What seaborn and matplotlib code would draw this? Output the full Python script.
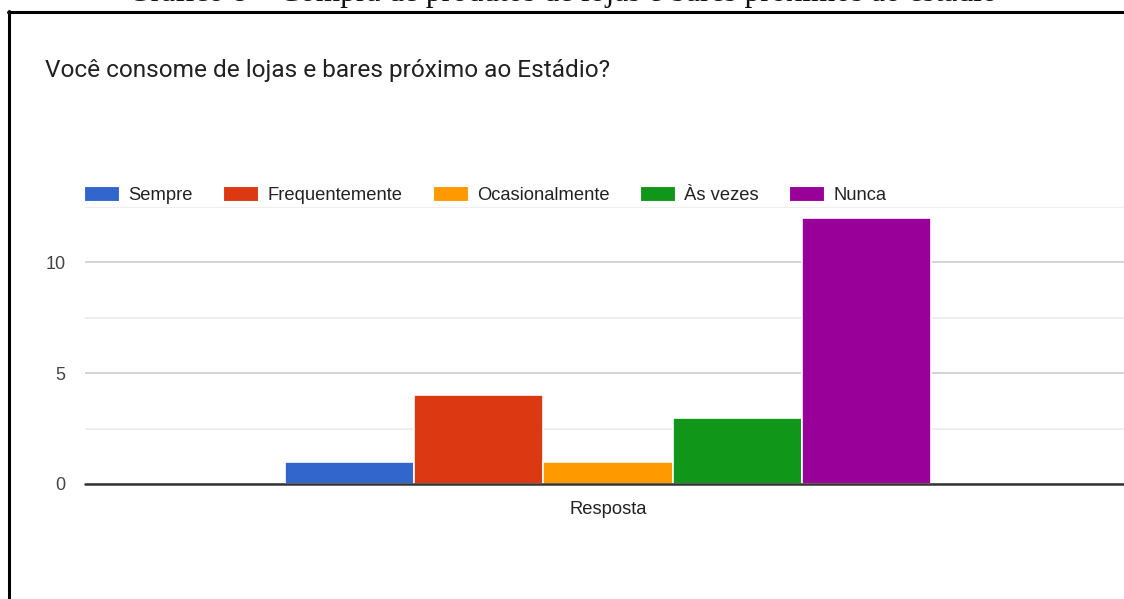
import matplotlib
matplotlib.use("Agg")
import matplotlib.pyplot as plt
import seaborn as sns
import pandas as pd
from matplotlib.lines import Line2D
from matplotlib.ticker import MultipleLocator

# Data
categorias = ["Sempre", "Frequentemente", "Ocasionalmente", "Às vezes", "Nunca"]
valores = [1, 4, 1, 3, 12]
grupo = ["Resposta"] * len(categorias)
cores = ["#3366CC", "#DC3912", "#FF9900", "#109618", "#990099"]
titulo = "Você consome de lojas e bares próximo ao Estádio?"
legenda_figura = "Gráfico 8 – Compra de produtos de lojas e bares próximos ao estádio"

df = pd.DataFrame({"grupo": grupo, "categoria": categorias, "valor": valores})

sns.set_theme(style="white")
plt.rcParams["font.family"] = ["Liberation Sans", "DejaVu Sans"]

W, H = 1124, 599
fig = plt.figure(figsize=(W / 100, H / 100), dpi=100)
fig.patch.set_facecolor("white")

ax_left, ax_right = 85 / W, 1131 / W
ax_top, ax_bot = 1 - 207 / H, 1 - 484 / H
ax = fig.add_axes([ax_left, ax_bot, ax_right - ax_left, ax_top - ax_bot])

sns.barplot(data=df, x="grupo", y="valor", hue="categoria", hue_order=categorias,
            palette=cores, width=0.617, saturation=1, edgecolor="white",
            linewidth=1.2, legend=False, ax=ax, zorder=3)

ax.set_xlim(-0.5, 0.5)
ax.set_ylim(0, 12.5)
ax.yaxis.set_major_locator(MultipleLocator(5))
ax.yaxis.set_minor_locator(MultipleLocator(2.5))
ax.grid(which="major", axis="y", color="#cccccc", linewidth=1.2, zorder=0)
ax.grid(which="minor", axis="y", color="#ebebeb", linewidth=1.2, zorder=0)
ax.grid(axis="x", visible=False)
ax.axhline(0, color="#333333", linewidth=1.8, zorder=4, clip_on=False)
for s in ax.spines.values():
    s.set_visible(False)
ax.set_xlabel("")
ax.set_ylabel("")
ax.tick_params(axis="y", which="both", length=0, pad=14, labelsize=13, labelcolor="#444444")
ax.tick_params(axis="x", length=0, pad=12, labelsize=13.2, labelcolor="#222222")

# Legend
handles = [plt.Rectangle((0, 0), 1, 1, facecolor=c, edgecolor="white", linewidth=0.8) for c in cores]
fig.legend(handles, categorias, loc="center left",
           bbox_to_anchor=(84 / W, 1 - 195 / H), ncol=5, frameon=False,
           fontsize=13.2, handlelength=1.91, handleheight=0.82, handletextpad=0.49,
           columnspacing=1.67, borderpad=0, borderaxespad=0, labelcolor="#222222")

# Title
fig.text(45 / W, 1 - 71 / H, titulo, fontsize=17.6, color="#212121",
         ha="left", va="center", family=["Roboto", "DejaVu Sans"])

# Clipped caption at the top (serif)
fig.text(563 / W, 1 - 1.3 / H, legenda_figura, fontsize=22.6, color="#111111",
         ha="center", va="baseline", family=["Liberation Serif", "DejaVu Serif"])

# Border box lines
fig.add_artist(Line2D([8.5 / W, 8.5 / W], [1 - 11 / H, 0], transform=fig.transFigure,
                      color="black", linewidth=2.2))
fig.add_artist(Line2D([7.5 / W, 1.0], [1 - 12 / H, 1 - 12 / H], transform=fig.transFigure,
                      color="black", linewidth=2.2))

fig.savefig("out.png", dpi=100, facecolor="white")
